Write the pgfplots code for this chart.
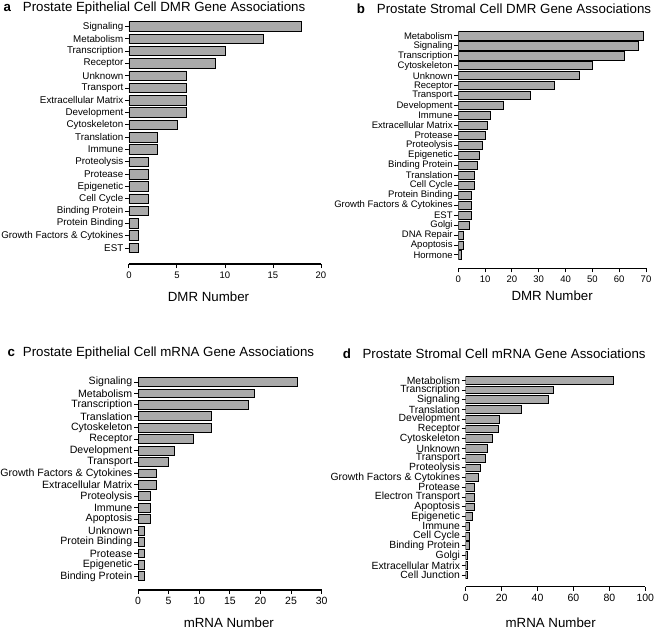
\documentclass[border=0pt]{standalone}
\usepackage{fontspec}
\setmainfont{Liberation Sans}
\usepackage{pgfplots}
\pgfplotsset{compat=1.18}
\definecolor{barfill}{RGB}{170,170,170}
\pgfplotsset{
  mybar/.style={
    xbar, bar shift=0pt, bar width=0.78,
    scale only axis, anchor=south west,
    axis x line*=bottom, axis y line*=left,
    y axis line style={draw=none},
    x axis line style={line width=1.1pt},
    enlargelimits=false, xmin=0,
    tick align=outside, major tick length=4pt,
    tick style={black, line width=1pt},
    minor tick num=0,
    /pgf/number format/assume math mode=true,
    xlabel style={font=\fontsize{13.3}{15}\selectfont, at={(axis description cs:0.5,0)}, anchor=center},
    yticklabel style={inner sep=1.5pt},
  },
  mystyle/.style={fill=barfill, draw=black, line width=0.9pt}
}
\begin{document}
\begin{tikzpicture}
\useasboundingbox (0pt,0pt) rectangle (656pt,630pt);
% titles
\node[anchor=base west, inner sep=0, font=\fontsize{13.3}{16}\selectfont\bfseries] at (3.3pt,618.3pt) {a};
\node[anchor=base west, inner sep=0, font=\fontsize{13.3}{16}\selectfont] at (22.7pt,618.3pt) {Prostate Epithelial Cell DMR Gene Associations};
\node[anchor=base west, inner sep=0, font=\fontsize{13.3}{16}\selectfont\bfseries] at (356.7pt,616pt) {b};
\node[anchor=base west, inner sep=0, font=\fontsize{13.3}{16}\selectfont] at (376.7pt,616pt) {Prostate Stromal Cell DMR Gene Associations};
\node[anchor=base west, inner sep=0, font=\fontsize{13.3}{16}\selectfont\bfseries] at (7.3pt,273pt) {c};
\node[anchor=base west, inner sep=0, font=\fontsize{13.3}{16}\selectfont] at (22.7pt,273pt) {Prostate Epithelial Cell mRNA Gene Associations};
\node[anchor=base west, inner sep=0, font=\fontsize{13.3}{16}\selectfont\bfseries] at (342.7pt,271.7pt) {d};
\node[anchor=base west, inner sep=0, font=\fontsize{13.3}{16}\selectfont] at (362.3pt,271.7pt) {Prostate Stromal Cell mRNA Gene Associations};

% panel a
\begin{axis}[mybar, at={(129pt,366pt)}, width=192pt, height=243pt,
  xmax=20, xtick={0,5,...,20}, ymin=-0.30, ymax=19.45,
  ytick={1,...,19},
  yticklabels={EST, Growth Factors \& Cytokines, Protein Binding, Binding Protein, Cell Cycle, Epigenetic, Protease, Proteolysis, Immune, Translation, Cytoskeleton, Development, Extracellular Matrix, Transport, Unknown, Receptor, Transcription, Metabolism, Signaling},
  yticklabel style={font=\fontsize{9.8}{10}\selectfont},
  xticklabel style={font=\fontsize{9.5}{10}\selectfont},
  xlabel={DMR Number}, xlabel style={yshift=-33pt, xshift=-16.5pt}]
\addplot[mystyle] coordinates {(18,19) (14,18) (10,17) (9,16) (6,15) (6,14) (6,13) (6,12) (5,11) (3,10) (3,9) (2,8) (2,7) (2,6) (2,5) (2,4) (1,3) (1,2) (1,1)};
\end{axis}

% panel b
\begin{axis}[mybar, at={(458.3pt,361.7pt)}, width=187.7pt, height=236.8pt, bar width=0.82,
  xmax=70, xtick={0,10,...,70}, ymin=-0.336, ymax=23.45,
  ytick={1,...,23},
  yticklabels={Hormone, Apoptosis, DNA Repair, Golgi, EST, Growth Factors \& Cytokines, Protein Binding, Cell Cycle, Translation, Binding Protein, Epigenetic, Proteolysis, Protease, Extracellular Matrix, Immune, Development, Transport, Receptor, Unknown, Cytoskeleton, Transcription, Signaling, Metabolism},
  yticklabel style={font=\fontsize{9.5}{10}\selectfont},
  xticklabel style={font=\fontsize{9.5}{10}\selectfont},
  xlabel={DMR Number}, xlabel style={yshift=-27.4pt}]
\addplot[mystyle] coordinates {(69,23) (67,22) (62,21) (50,20) (45,19) (36,18) (27,17) (17,16) (12,15) (11,14) (10,13) (9,12) (8,11) (7,10) (6,9) (6,8) (5,7) (5,6) (5,5) (4,4) (2,3) (2,2) (1,1)};
\end{axis}

% panel c
\begin{axis}[mybar, at={(138pt,40pt)}, width=183.7pt, height=213.1pt,
  xmax=30, xtick={0,5,...,30}, ymin=-0.2, ymax=18.45,
  ytick={1,...,18},
  yticklabels={Binding Protein, Epigenetic, Protease, Protein Binding, Unknown, Apoptosis, Immune, Proteolysis, Extracellular Matrix, Growth Factors \& Cytokines, Transport, Development, Receptor, Cytoskeleton, Translation, Transcription, Metabolism, Signaling},
  yticklabel style={font=\fontsize{10.6}{11}\selectfont},
  xticklabel style={font=\fontsize{10.5}{11}\selectfont},
  xlabel={mRNA Number}, xlabel style={yshift=-33pt, xshift=-1pt}]
\addplot[mystyle] coordinates {(26,18) (19,17) (18,16) (12,15) (12,14) (9,13) (6,12) (5,11) (3,10) (3,9) (2,8) (2,7) (2,6) (1,5) (1,4) (1,3) (1,2) (1,1)};
\end{axis}

% panel d
\begin{axis}[mybar, at={(465.7pt,43.3pt)}, width=179.6pt, height=210.8pt, bar width=0.8,
  xmax=100, xtick={0,20,...,100}, ymin=-0.2, ymax=21.45,
  ytick={1,...,21},
  yticklabels={Cell Junction, Extracellular Matrix, Golgi, Binding Protein, Cell Cycle, Immune, Epigenetic, Apoptosis, Electron Transport, Protease, Growth Factors \& Cytokines, Proteolysis, Transport, Unknown, Cytoskeleton, Receptor, Development, Translation, Signaling, Transcription, Metabolism},
  yticklabel style={font=\fontsize{10.4}{11}\selectfont},
  xticklabel style={font=\fontsize{10.5}{11}\selectfont},
  xlabel={mRNA Number}, xlabel style={yshift=-36pt, xshift=-4.8pt}]
\addplot[mystyle] coordinates {(82,21) (49,20) (46,19) (31,18) (19,17) (18,16) (15,15) (12,14) (11,13) (8,12) (7,11) (5,10) (5,9) (5,8) (4,7) (2,6) (2,5) (2,4) (1,3) (1,2) (1,1)};
\end{axis}
\end{tikzpicture}
\end{document}
